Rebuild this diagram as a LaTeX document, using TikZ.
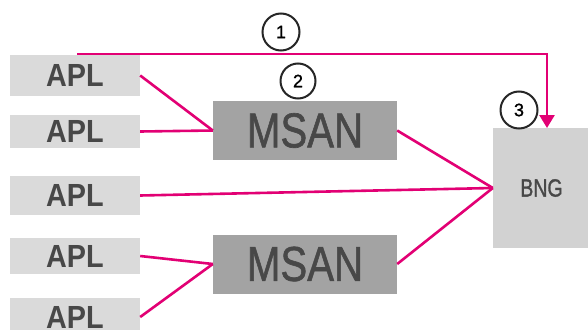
\documentclass[tikz,border=0pt]{standalone}
\usepackage{fontspec}
\setmainfont{Liberation Sans}
\newfontfamily\labelmedium[FakeBold=1.3]{Liberation Sans}
\usetikzlibrary{arrows.meta}
\definecolor{magenta}{HTML}{E20074}
\definecolor{aplgray}{HTML}{DADADA}
\definecolor{msangray}{HTML}{A3A3A3}
\definecolor{bnggray}{HTML}{D2D2D2}
\definecolor{txtgray}{HTML}{484848}
\tikzset{
  apl/.style={fill=aplgray, minimum width=130pt, minimum height=#1, inner sep=0pt,
    text=txtgray, font=\fontsize{32}{32}\selectfont\bfseries},
  msan/.style={fill=msangray, minimum width=184pt, minimum height=59pt, inner sep=0pt,
    text=txtgray, font=\labelmedium\fontsize{49}{49}\selectfont},
  bng/.style={fill=bnggray, minimum width=97pt, minimum height=120pt, inner sep=0pt,
    text=txtgray, font=\labelmedium\fontsize{25}{25}\selectfont},
  marker/.style={circle, draw=black!85, line width=2pt, minimum size=37pt, inner sep=0pt,
    fill=white, font=\labelmedium\fontsize{18}{18}\selectfont},
  link/.style={draw=magenta, line width=2.6pt},
}
\begin{document}
\begin{tikzpicture}[x=1pt, y=-1pt]
  \useasboundingbox[fill=white] (0,0) rectangle (588,329);
  \clip (0,0) rectangle (588,329);

  % access points
  \node[apl=41pt] (apl1) at (75,75.5) {\scalebox{0.9}[1]{APL}};
  \node[apl=33pt] (apl2) at (75,131.5) {\scalebox{0.9}[1]{APL}};
  \node[apl=39pt] (apl3) at (75,195.5) {\scalebox{0.9}[1]{APL}};
  \node[apl=36pt] (apl4) at (75,256) {\scalebox{0.9}[1]{APL}};
  \node[apl=38pt] (apl5) at (75,317) {\scalebox{0.9}[1]{APL}};

  % aggregation and broadband gateway
  \node[msan] (msan1) at (305,130.5) {\scalebox{0.82}[1]{MSAN}};
  \node[msan] (msan2) at (305,264) {\scalebox{0.82}[1]{MSAN}};
  \node[bng] (bng) at (541.5,188) {\scalebox{0.78}[1]{BNG}};

  % connections
  \draw[link] (apl1.east) -- (msan1.west);
  \draw[link] (apl2.east) -- (msan1.west);
  \draw[link] (apl4.east) -- (msan2.west);
  \draw[link] (apl5.east) -- (msan2.west);
  \draw[link] (msan1.east) -- (bng.west);
  \draw[link] (apl3.east) -- (bng.west);
  \draw[link] (msan2.east) -- (bng.west);

  % direct path
  \coordinate (start) at (77,54);
  \coordinate (turn) at (547,54);
  \coordinate (tip) at (547,128);
  \draw[link, -{Triangle[width=15pt,length=13pt]}] (start) -- (turn) -- (tip);

  % numbered markers
  \node[marker] (m1) at (281,32) {1};
  \node[marker, minimum size=35pt] (m2) at (298,81) {2};
  \node[marker] (m3) at (519,110) {3};
\end{tikzpicture}
\end{document}
